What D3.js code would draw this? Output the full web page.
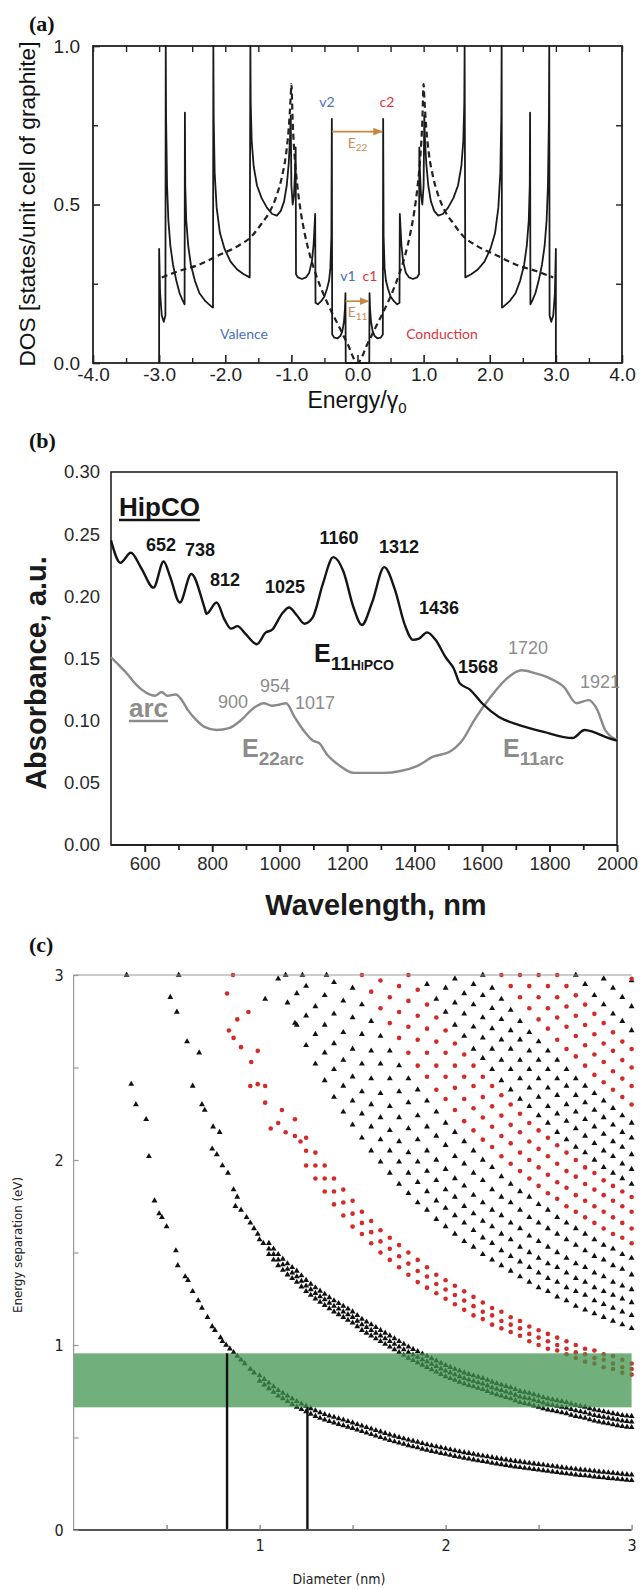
<!DOCTYPE html>
<html>
<head>
<meta charset="utf-8">
<script src="https://cdn.jsdelivr.net/npm/d3@7"></script>
<style>
  body { margin: 0; background: #fff; }
  svg { display: block; }
</style>
</head>
<body>
<div id="chart"></div>
<script>
// ---------------- (a) density of states ----------------
var energyTicks = [-4, -3, -2, -1, 0, 1, 2, 3, 4]
var energyMinor = [-3.5, -2.5, -1.5, -0.5, 0.5, 1.5, 2.5, 3.5]
var dosTicks = [0, 0.5, 1]
var dosMinor = [0.25, 0.75]

// solid line, nanotube DOS  [energy/gamma0, dos]
var tubeDOS = [[-3.0,0],[-3.0,0.36],[-2.985,0.22],[-2.96,0.15],[-2.93,0.13],[-2.905,0.15],[-2.9,1.0],[-2.895,0.78],[-2.88,0.56],[-2.86,0.45],[-2.83,0.37],[-2.79,0.31],[-2.74,0.26],[-2.69,0.22],[-2.65,0.2],[-2.615,0.185],[-2.61,0.79],[-2.605,0.56],[-2.59,0.45],[-2.56,0.37],[-2.52,0.31],[-2.46,0.26],[-2.39,0.22],[-2.3,0.195],[-2.22,0.18],[-2.185,0.175],[-2.18,1.0],[-2.175,0.78],[-2.16,0.6],[-2.13,0.49],[-2.08,0.41],[-2.01,0.36],[-1.92,0.32],[-1.82,0.295],[-1.72,0.28],[-1.63,0.27],[-1.62,1.0],[-1.615,0.82],[-1.6,0.7],[-1.57,0.62],[-1.52,0.56],[-1.45,0.52],[-1.37,0.49],[-1.29,0.47],[-1.22,0.465],[-1.16,0.48],[-1.11,0.51],[-1.07,0.56],[-1.04,0.63],[-1.02,0.71],[-1.01,0.78],[-1.0,0.56],[-0.98,0.5],[-0.96,0.53],[-0.945,0.6],[-0.935,0.68],[-0.93,0.28],[-0.9,0.27],[-0.84,0.265],[-0.78,0.27],[-0.73,0.285],[-0.69,0.32],[-0.665,0.37],[-0.65,0.43],[-0.64,0.47],[-0.635,0.19],[-0.6,0.185],[-0.55,0.195],[-0.5,0.21],[-0.46,0.235],[-0.43,0.26],[-0.41,0.3],[-0.395,0.4],[-0.388,0.77],[-0.383,0.09],[-0.35,0.08],[-0.3,0.078],[-0.26,0.085],[-0.23,0.1],[-0.205,0.13],[-0.19,0.17],[-0.182,0.22],[-0.178,0],
  [0.178,0],[0.182,0.22],[0.19,0.17],[0.205,0.13],[0.23,0.1],[0.26,0.085],[0.3,0.078],[0.35,0.08],[0.383,0.09],[0.388,0.77],[0.395,0.4],[0.41,0.3],[0.43,0.26],[0.46,0.235],[0.5,0.21],[0.55,0.195],[0.6,0.185],[0.635,0.19],[0.64,0.47],[0.65,0.43],[0.665,0.37],[0.69,0.32],[0.73,0.285],[0.78,0.27],[0.84,0.265],[0.9,0.27],[0.93,0.28],[0.935,0.68],[0.945,0.6],[0.96,0.53],[0.98,0.5],[1.0,0.56],[1.01,0.78],[1.02,0.71],[1.04,0.63],[1.07,0.56],[1.11,0.51],[1.16,0.48],[1.22,0.465],[1.29,0.47],[1.37,0.49],[1.45,0.52],[1.52,0.56],[1.57,0.62],[1.6,0.7],[1.615,0.82],[1.62,1.0],[1.63,0.27],[1.72,0.28],[1.82,0.295],[1.92,0.32],[2.01,0.36],[2.08,0.41],[2.13,0.49],[2.16,0.6],[2.175,0.78],[2.18,1.0],[2.185,0.175],[2.22,0.18],[2.3,0.195],[2.39,0.22],[2.46,0.26],[2.52,0.31],[2.56,0.37],[2.59,0.45],[2.605,0.56],[2.61,0.79],[2.615,0.185],[2.65,0.2],[2.69,0.22],[2.74,0.26],[2.79,0.31],[2.83,0.37],[2.86,0.45],[2.88,0.56],[2.895,0.78],[2.9,1.0],[2.905,0.15],[2.93,0.13],[2.96,0.15],[2.985,0.22],[3.0,0.36],[3.0,0]]

// dashed line, graphite DOS
var graphiteDOS = [[-2.96,0.27],[-2.7,0.29],[-2.4,0.31],[-2.1,0.34],[-1.8,0.37],[-1.6,0.4],[-1.45,0.44],[-1.32,0.48],[-1.22,0.53],[-1.14,0.59],[-1.08,0.66],[-1.04,0.74],[-1.01,0.84],[-1.0,0.88],[-0.98,0.76],[-0.95,0.65],[-0.91,0.56],[-0.86,0.48],[-0.8,0.41],[-0.72,0.34],[-0.63,0.28],[-0.52,0.22],[-0.4,0.165],[-0.28,0.115],[-0.15,0.06],[0,0],[0.15,0.06],[0.28,0.115],[0.4,0.165],[0.52,0.22],[0.63,0.28],[0.72,0.34],[0.8,0.41],[0.86,0.48],[0.91,0.56],[0.95,0.65],[0.98,0.76],[1.0,0.88],[1.01,0.84],[1.04,0.74],[1.08,0.66],[1.14,0.59],[1.22,0.53],[1.32,0.48],[1.45,0.44],[1.6,0.4],[1.8,0.37],[2.1,0.34],[2.4,0.31],[2.7,0.29],[2.96,0.27]]

// transitions v2->c2 and v1->c1
var transitions = [{ from: -0.385, to: 0.385, level: 0.73, name: "E", sub: "22" },
                   { from: -0.18, to: 0.18, level: 0.195, name: "E", sub: "11" }]

// ---------------- (b) absorbance ----------------
var wavelengthTicks = [600, 800, 1000, 1200, 1400, 1600, 1800, 2000]
var wavelengthMinor = [700, 900, 1100, 1300, 1500, 1700, 1900]
var absTicks = [0, 0.05, 0.1, 0.15, 0.2, 0.25, 0.3]

var hipcoNm  = [500,528,559,589,626,656,675,704,738,777,783,813,837,856,875,898,932,959,977,1007,1028,1050,1074,1098,1128,1159,1189,1219,1244,1274,1310,1341,1371,1395,1413,1437,1462,1492,1516,1534,1564,1600,1650,1710,1783,1868,1904,1929,1965,2000]
var hipcoAbs = [0.245,0.227,0.235,0.223,0.207,0.228,0.216,0.195,0.218,0.191,0.186,0.195,0.181,0.174,0.176,0.170,0.1615,0.171,0.173,0.186,0.191,0.185,0.178,0.183,0.210,0.2315,0.220,0.191,0.177,0.195,0.2235,0.206,0.177,0.165,0.166,0.171,0.165,0.151,0.142,0.130,0.125,0.114,0.103,0.0965,0.091,0.086,0.0925,0.091,0.087,0.084]

var arcNm  = [500,522,547,571,601,631,650,667,692,710,728,753,777,813,850,886,922,953,977,1001,1019,1044,1074,1098,1117,1141,1177,1219,1262,1310,1358,1407,1455,1504,1535,1541,1577,1625,1674,1717,1759,1801,1843,1880,1916,1941,1965,2000]
var arcAbs = [0.151,0.145,0.138,0.130,0.123,0.120,0.123,0.120,0.121,0.1165,0.1085,0.1005,0.095,0.0925,0.094,0.1005,0.110,0.114,0.112,0.113,0.114,0.103,0.091,0.084,0.082,0.0725,0.064,0.058,0.058,0.058,0.0595,0.0635,0.071,0.075,0.082,0.084,0.1005,0.119,0.134,0.1405,0.138,0.134,0.127,0.114,0.1165,0.109,0.0925,0.0845]

var hipcoPeaks = ["652", "738", "812", "1025", "1160", "1312", "1436", "1568"]
var arcPeaks = ["1720", "1921", "900", "954", "1017"]

// ---------------- (c) Kataura plot ----------------
var diameterTicks = [1, 2, 3]
var diameterMinor = [0.5, 1.5, 2.5]
var energySepTicks = [0, 1, 2, 3]
var energySepMinor = [0.5, 1.5, 2.5]
var windowEV = [0.663, 0.955]          // green band
var cutoffs = [[0.825, 0.955], [1.257, 0.663]]  // vertical lines

// rows are [diameter, energy, energy, ...]
var s11Rows = [[0.285,3.0],[0.31,2.41],[0.335,2.3],[0.39,2.22],[0.405,2.02],[0.435,1.78],[0.46,1.71],[0.475,1.69],[0.5,1.64],[0.55,1.51],[0.56,1.43],[0.6,1.37],[0.615,1.35],[0.64,1.29],[0.67,1.24],[0.69,1.2],[0.72,1.15],[0.745,1.1],[0.76,1.08],[0.79,1.04],[0.8,1.02],[0.82,1.0],[0.84,0.98],[0.86,0.96],[0.88,0.94],[0.9,0.92],[0.92,0.9],[0.95,0.87],[0.97,0.85],
  [1.0,.805,.835],[1.025,.785,.815],[1.05,.765,.795],[1.075,.745,.775],[1.1,.725,.755],[1.125,.71,.74],[1.15,.695,.725],[1.175,.68,.71],[1.2,.665,.695],[1.225,.652,.682],[1.25,.64,.67],[1.275,.627,.657],[1.3,.615,.645],[1.325,.605,.635],[1.35,.595,.625],[1.375,.587,.617],[1.4,.58,.61],[1.425,.572,.602],[1.45,.565,.595],[1.475,.557,.587],[1.5,.55,.58],[1.525,.541,.571],[1.55,.533,.563],[1.575,.525,.555],[1.6,.517,.547],[1.625,.509,.539],[1.65,.501,.531],[1.675,.493,.523],[1.7,.485,.515],[1.725,.478,.508],[1.75,.471,.501],[1.775,.464,.494],[1.8,.457,.487],[1.825,.451,.481],[1.85,.445,.475],[1.875,.438,.468],[1.9,.432,.462],[1.925,.426,.456],[1.95,.421,.451],[1.975,.415,.445],[2.0,.41,.44],[2.025,.405,.435],[2.05,.399,.429],[2.075,.394,.424],[2.1,.389,.419],[2.125,.385,.415],[2.15,.38,.41],[2.175,.375,.405],[2.2,.371,.401],[2.225,.367,.397],[2.25,.362,.392],[2.275,.358,.388],[2.3,.354,.384],[2.325,.35,.38],[2.35,.346,.376],[2.375,.342,.372],[2.4,.339,.369],[2.425,.335,.365],[2.45,.332,.362],[2.475,.328,.358],[2.5,.325,.355],[2.525,.322,.352],[2.55,.318,.348],[2.575,.315,.345],[2.6,.312,.342],[2.625,.308,.338],[2.65,.305,.335],[2.675,.302,.332],[2.7,.299,.329],[2.725,.296,.326],[2.75,.294,.324],[2.775,.291,.321],[2.8,.288,.318],[2.825,.285,.315],[2.85,.283,.313],[2.875,.28,.31],[2.9,.278,.308],[2.925,.275,.305],[2.95,.273,.303],[2.975,.27,.30],[3.0,.268,.298]]

var s22Rows = [[0.52,2.88],[0.555,2.8],[0.565,3.0],[0.61,2.64],[0.64,2.4],[0.675,2.58],[0.69,2.3],[0.705,2.27],[0.75,2.18],[0.785,2.15],[0.745,2.06],[0.77,2.03],[0.8,1.97],[0.83,1.93],[0.86,1.84],[0.88,1.8],[0.87,1.75],[0.9,1.73],[0.93,1.69],[0.95,1.66],[0.97,1.63],[0.99,1.6],[1.0,1.57],[1.02,1.55],
  [1.05,1.49,1.52,1.55],[1.075,1.46,1.49,1.52],[1.1,1.43,1.46,1.49],[1.125,1.405,1.435,1.465],[1.15,1.38,1.41,1.44],[1.175,1.36,1.39,1.42],[1.2,1.34,1.37,1.40],[1.225,1.315,1.345,1.375],[1.25,1.29,1.32,1.35],[1.275,1.27,1.30,1.33],[1.3,1.25,1.28,1.31],[1.325,1.232,1.262,1.292],[1.35,1.215,1.245,1.275],[1.375,1.197,1.227,1.257],[1.4,1.18,1.21,1.24],[1.425,1.165,1.195,1.225],[1.45,1.15,1.18,1.21],[1.475,1.135,1.165,1.195],[1.5,1.12,1.15,1.18],[1.525,1.10,1.13,1.16],[1.55,1.08,1.11,1.14],[1.575,1.065,1.095,1.125],[1.6,1.05,1.08,1.11],[1.625,1.035,1.065,1.095],[1.65,1.02,1.05,1.08],[1.675,1.005,1.035,1.065],[1.7,0.99,1.02,1.05],[1.725,0.975,1.005,1.035],[1.75,0.96,0.99,1.02],[1.775,0.945,0.975,1.005],[1.8,0.93,0.96,0.99],[1.825,0.917,0.947,0.977],[1.85,0.905,0.935,0.965],[1.875,0.892,0.922,0.952],[1.9,0.88,0.91,0.94],[1.925,0.867,0.897,0.927],[1.95,0.855,0.885,0.915],[1.975,0.842,0.872,0.902],[2.0,0.83,0.86,0.89],[2.025,0.82,0.85,0.88],[2.05,0.81,0.84,0.87],[2.075,0.80,0.83,0.86],[2.1,0.79,0.82,0.85],[2.125,0.782,0.812,0.842],[2.15,0.775,0.805,0.835],[2.175,0.767,0.797,0.827],[2.2,0.76,0.79,0.82],[2.225,0.75,0.78,0.81],[2.25,0.74,0.77,0.80],[2.275,0.732,0.762,0.792],[2.3,0.725,0.755,0.785],[2.325,0.717,0.747,0.777],[2.35,0.71,0.74,0.77],[2.375,0.70,0.73,0.76],[2.4,0.69,0.72,0.75],[2.425,0.685,0.715,0.745],[2.45,0.68,0.71,0.74],[2.475,0.672,0.702,0.732],[2.5,0.665,0.695,0.725],[2.525,0.657,0.687,0.717],[2.55,0.65,0.68,0.71],[2.575,0.645,0.675,0.705],[2.6,0.64,0.67,0.70],[2.625,0.635,0.665,0.695],[2.65,0.63,0.66,0.69],[2.675,0.622,0.652,0.682],[2.7,0.615,0.645,0.675],[2.725,0.61,0.64,0.67],[2.75,0.605,0.635,0.665],[2.775,0.597,0.627,0.657],[2.8,0.59,0.62,0.65],[2.825,0.585,0.615,0.645],[2.85,0.58,0.61,0.64],[2.875,0.575,0.605,0.635],[2.9,0.57,0.60,0.63],[2.925,0.565,0.595,0.625],[2.95,0.56,0.59,0.62],[2.975,0.557,0.587,0.617],[3.0,0.555,0.585,0.615]]

var m11Rows = [[0.825,2.9],[0.835,2.7],[0.857,3.0],[0.86,2.66],[0.88,2.76],[0.9,2.61],[0.94,2.8],[0.955,2.53],[0.95,2.4],[0.99,2.59],[0.99,2.41],[1.03,2.4],[1.03,2.31],[1.06,2.17],[1.1,2.2],[1.12,2.27],[1.14,2.15],[1.19,2.22],[1.19,2.13],[1.22,2.1],
  [1.25,1.97,2.05,2.12],[1.3,1.9,1.97,2.04],[1.35,1.83,1.9,1.97],[1.4,1.76,1.83,1.9],[1.45,1.7,1.77,1.84],[1.5,1.64,1.71,1.78],[1.55,1.6,1.66,1.72],[1.6,1.55,1.61,1.67],[1.65,1.5,1.56,1.62],[1.7,1.46,1.52,1.58],[1.75,1.42,1.48,1.54],[1.8,1.38,1.44,1.5],[1.85,1.34,1.4,1.46],[1.9,1.31,1.37,1.42],[1.95,1.28,1.33,1.38],[2.0,1.25,1.3,1.35],[2.05,1.22,1.27,1.32],[2.1,1.19,1.24,1.29],[2.15,1.16,1.21,1.26],[2.2,1.14,1.18,1.23],[2.25,1.11,1.16,1.2],[2.3,1.09,1.13,1.18],[2.35,1.07,1.11,1.15],[2.4,1.05,1.09,1.13],[2.45,1.02,1.06,1.1],[2.5,1.0,1.04,1.08],[2.55,0.98,1.02,1.06],[2.6,0.97,1.0,1.04],[2.65,0.95,0.98,1.02],[2.7,0.93,0.96,1.0],[2.75,0.91,0.95,0.98],[2.8,0.9,0.93,0.97],[2.85,0.88,0.92,0.95],[2.9,0.87,0.9,0.94],[2.95,0.85,0.88,0.92],[3.0,0.84,0.87,0.9]]

var s33Rows = [[1.03,2.87],[1.1,2.98],[1.14,3.0],[1.15,2.85],[1.19,2.74],[1.2,2.73,2.9],[1.25,2.62,2.78,2.94],[1.3,2.52,2.68,2.83],[1.35,2.43,2.58,2.73],[1.4,2.34,2.49,2.63],[1.45,2.26,2.40,2.54],[1.5,2.19,2.32,2.45],[1.55,2.12,2.25,2.37],[1.6,2.05,2.18,2.30],[1.65,1.99,2.11,2.23],[1.7,1.93,2.05,2.16],[1.75,1.87,1.99,2.10],[1.8,1.82,1.93,2.04],[1.85,1.77,1.88,1.99],[1.9,1.73,1.83,1.94],[1.95,1.68,1.78,1.89],[2.0,1.64,1.74,1.84],[2.05,1.60,1.70,1.80],[2.1,1.56,1.66,1.75],[2.15,1.53,1.62,1.71],[2.2,1.49,1.58,1.67],[2.25,1.46,1.55,1.64],[2.3,1.43,1.51,1.60],[2.35,1.40,1.48,1.57],[2.4,1.37,1.45,1.53],[2.45,1.34,1.42,1.50],[2.5,1.31,1.39,1.47],[2.55,1.29,1.36,1.44],[2.6,1.26,1.34,1.42],[2.65,1.24,1.31,1.39],[2.7,1.21,1.29,1.36],[2.75,1.19,1.27,1.34],[2.8,1.17,1.24,1.31],[2.85,1.15,1.22,1.29],[2.9,1.13,1.20,1.27],[2.95,1.11,1.18,1.25],[3.0,1.09,1.16,1.23]]

var s44Rows = [[1.23,3.0],[1.35,2.89],[1.36,3.0],[1.4,2.79,2.96],[1.45,2.69,2.86],[1.5,2.60,2.77,2.93],[1.55,2.52,2.68,2.84],[1.6,2.44,2.59,2.75],[1.65,2.36,2.52,2.67],[1.7,2.29,2.44,2.59],[1.75,2.23,2.37,2.51],[1.8,2.17,2.31,2.44],[1.85,2.11,2.24,2.38],[1.9,2.05,2.18,2.32],[1.95,2.00,2.13,2.26],[2.0,1.95,2.08,2.20],[2.05,1.90,2.02,2.15],[2.1,1.86,1.98,2.10],[2.15,1.81,1.93,2.05],[2.2,1.77,1.89,2.00],[2.25,1.73,1.84,1.96],[2.3,1.70,1.80,1.91],[2.35,1.66,1.77,1.87],[2.4,1.63,1.73,1.83],[2.45,1.59,1.69,1.80],[2.5,1.56,1.66,1.76],[2.55,1.53,1.63,1.73],[2.6,1.50,1.60,1.69],[2.65,1.47,1.57,1.66],[2.7,1.44,1.54,1.63],[2.75,1.42,1.51,1.60],[2.8,1.39,1.48,1.57],[2.85,1.37,1.46,1.54],[2.9,1.34,1.43,1.52],[2.95,1.32,1.41,1.49],[3.0,1.30,1.38,1.47]]

var m22Rows = [[1.55,3.0],[1.6,2.91],[1.65,2.82,2.97],[1.7,2.74,2.88],[1.75,2.66,2.80,2.94],[1.8,2.58,2.72,2.86,3.0],[1.85,2.51,2.65,2.78,2.92],[1.9,2.45,2.58,2.71,2.84],[1.95,2.38,2.51,2.64,2.77],[2.0,2.33,2.45,2.58,2.70],[2.05,2.27,2.39,2.51,2.63],[2.1,2.21,2.33,2.45,2.57],[2.15,2.16,2.28,2.40,2.51],[2.2,2.11,2.23,2.34,2.45],[2.25,2.07,2.18,2.29,2.40],[2.3,2.02,2.13,2.24,2.35],[2.35,1.98,2.09,2.19,2.30],[2.4,1.94,2.04,2.15,2.25],[2.45,1.90,2.00,2.10,2.20],[2.5,1.86,1.96,2.06,2.16],[2.55,1.82,1.92,2.02,2.12],[2.6,1.79,1.88,1.98,2.08],[2.65,1.75,1.85,1.94,2.04],[2.7,1.72,1.81,1.91,2.00],[2.75,1.69,1.78,1.87,1.96],[2.8,1.66,1.75,1.84,1.93],[2.85,1.63,1.72,1.81,1.89],[2.9,1.60,1.69,1.78,1.86],[2.95,1.58,1.66,1.75,1.83],[3.0,1.55,1.63,1.72,1.80]]

var s55Rows = [[1.9,2.95],[1.95,2.87],[2.0,2.80,2.93],[2.05,2.73,2.85,2.98],[2.1,2.67,2.79,2.90],[2.15,2.60,2.72,2.84,2.95],[2.2,2.55,2.66,2.77,2.89,3.0],[2.25,2.49,2.60,2.71,2.82,2.93],[2.3,2.43,2.54,2.65,2.76,2.87],[2.35,2.38,2.49,2.60,2.70,2.81],[2.4,2.33,2.44,2.54,2.65,2.75],[2.45,2.29,2.39,2.49,2.59,2.69],[2.5,2.24,2.34,2.44,2.54,2.64],[2.55,2.20,2.29,2.39,2.49,2.59],[2.6,2.15,2.25,2.35,2.44,2.54],[2.65,2.11,2.21,2.30,2.40,2.49],[2.7,2.07,2.17,2.26,2.35,2.44],[2.75,2.04,2.13,2.22,2.31,2.40],[2.8,2.00,2.09,2.18,2.27,2.36],[2.85,1.96,2.05,2.14,2.23,2.32],[2.9,1.93,2.02,2.10,2.19,2.28],[2.95,1.90,1.98,2.07,2.15,2.24],[3.0,1.87,1.95,2.03,2.12,2.20]]

var m33Rows = [[2.3,3.0],[2.35,2.94],[2.4,2.88,3.0],[2.45,2.82,2.94],[2.5,2.76,2.88,3.0],[2.55,2.71,2.82,2.94],[2.6,2.65,2.77,2.88,3.0],[2.65,2.60,2.72,2.83,2.94],[2.7,2.56,2.67,2.78,2.89],[2.75,2.51,2.62,2.73,2.84],[2.8,2.46,2.57,2.68,2.79],[2.85,2.42,2.53,2.63,2.74],[2.9,2.38,2.48,2.59,2.69],[2.95,2.34,2.44,2.54,2.64],[3.0,2.30,2.40,2.50,2.60,2.98]]

var s77Rows = [[2.7,3.0],[2.75,2.95],[2.8,2.89],[2.85,2.84,2.98],[2.9,2.79,2.93],[2.95,2.75,2.88],[3.0,2.70,2.83,2.97]]

var semiconductingBands = [s11Rows, s22Rows, s33Rows, s44Rows, s55Rows, s77Rows]
var metallicBands = [m11Rows, m22Rows, m33Rows]

// ==========================================================
var svg = d3.select("#chart").append("svg")
  .attr("width", 641).attr("height", 1589)
  .style("font-family", "'Liberation Sans', Arial, Helvetica, sans-serif")

var defs = svg.append("defs")
defs.append("marker").attr("id", "arrowhead")
  .attr("viewBox", "0 0 10 10").attr("refX", 9).attr("refY", 5)
  .attr("markerWidth", 6).attr("markerHeight", 6).attr("orient", "auto")
  .append("path").attr("d", "M0,1L10,5L0,9z").attr("fill", "#c8873e")

// strip d3's default axis font so styles below win
function plainAxis(g, color, width) {
  g.attr("font-size", null).attr("font-family", null)
  g.select(".domain").remove()
  g.selectAll(".tick line").attr("stroke", color).attr("stroke-width", width)
}

var letters = ["(a)", "(b)", "(c)"]
var letterY = [31, 448, 952]
letters.forEach(function (t, i) {
  svg.append("text").attr("x", 29).attr("y", letterY[i]).text(t)
    .style("font-family", "'Liberation Serif', 'Times New Roman', serif")
    .style("font-weight", "bold").style("font-size", "22px").attr("fill", "#111")
})

// ---------------- panel (a) ----------------
var xa = d3.scaleLinear().domain([-4, 4]).range([93, 622])
var ya = d3.scaleLinear().domain([0, 1]).range([363, 46])
var ga = svg.append("g")

ga.append("g").attr("transform", "translate(0,363)")
  .call(d3.axisBottom(xa).tickValues(energyTicks).tickSize(-8).tickPadding(5).tickFormat(d => d.toFixed(1)))
  .call(plainAxis, "#222", 1.6)
  .selectAll("text").style("font-size", "19px").attr("fill", "#222")
ga.append("g").attr("transform", "translate(0,363)")
  .call(d3.axisBottom(xa).tickValues(energyMinor).tickSize(-5).tickFormat(""))
  .call(plainAxis, "#222", 1.4)
ga.append("g").attr("transform", "translate(0,46)")
  .call(d3.axisTop(xa).tickValues(energyTicks.concat(energyMinor)).tickSize(-6).tickFormat(""))
  .call(plainAxis, "#222", 1.4)
ga.append("g").attr("transform", "translate(93,0)")
  .call(d3.axisLeft(ya).tickValues(dosTicks).tickSize(-7).tickPadding(13).tickFormat(d => d.toFixed(1)))
  .call(plainAxis, "#222", 1.6)
  .selectAll("text").style("font-size", "19px").attr("fill", "#222")
ga.append("g").attr("transform", "translate(93,0)")
  .call(d3.axisLeft(ya).tickValues(dosMinor).tickSize(-5).tickFormat(""))
  .call(plainAxis, "#222", 1.4)
ga.append("g").attr("transform", "translate(622,0)")
  .call(d3.axisRight(ya).tickValues(dosMinor.concat([0.5])).tickSize(-6).tickFormat(""))
  .call(plainAxis, "#222", 1.4)

ga.append("rect").attr("x", xa(-4)).attr("y", ya(1))
  .attr("width", xa(4) - xa(-4)).attr("height", ya(0) - ya(1))
  .attr("fill", "none").attr("stroke", "#222").attr("stroke-width", 1.8)

var dashedLine = d3.line().x(d => xa(d[0])).y(d => ya(d[1])).curve(d3.curveMonotoneX)
var solidLine = d3.line().x(d => xa(d[0])).y(d => ya(d[1]))

ga.append("path").datum(graphiteDOS).attr("d", dashedLine)
  .attr("fill", "none").attr("stroke", "#222").attr("stroke-width", 2.2).attr("stroke-dasharray", "6,4")
ga.append("path").datum(tubeDOS).attr("d", solidLine)
  .attr("fill", "none").attr("stroke", "#1a1a1a").attr("stroke-width", 1.8).attr("stroke-linejoin", "round")

// arrows between van Hove singularities
transitions.forEach(function (t, i) {
  ga.append("line").attr("x1", xa(t.from)).attr("x2", xa(t.to) - 1)
    .attr("y1", ya(t.level)).attr("y2", ya(t.level))
    .attr("stroke", "#c8873e").attr("stroke-width", 1.6).attr("marker-end", "url(#arrowhead)")
  var lab = ga.append("text").attr("x", xa(0)).attr("y", ya(t.level) + 16)
    .attr("text-anchor", "middle").attr("fill", "#c98c55")
    .style("font-family", "Lato, 'Open Sans', sans-serif").style("font-size", "14px")
  lab.append("tspan").text(t.name)
  lab.append("tspan").attr("dy", 3).style("font-size", "10px").text(t.sub)
})

var bandLabels = [
  { t: "v2", x: 327, y: 107, c: "#4a6fbf" }, { t: "c2", x: 387, y: 107, c: "#e0333c" },
  { t: "v1", x: 348, y: 281, c: "#4a6fbf" }, { t: "c1", x: 370, y: 281, c: "#e0333c" },
  { t: "Valence", x: 244, y: 339, c: "#4a6fbf" }, { t: "Conduction", x: 442, y: 339, c: "#e0333c" }]
ga.selectAll(".blab").data(bandLabels).enter().append("text")
  .attr("x", d => d.x).attr("y", d => d.y).attr("text-anchor", "middle")
  .attr("fill", d => d.c).text(d => d.t)
  .style("font-family", "Lato, 'Open Sans', sans-serif").style("font-size", "14px")

var xtA = ga.append("text").attr("x", 357).attr("y", 408).attr("text-anchor", "middle")
  .style("font-size", "23px").attr("fill", "#111")
xtA.append("tspan").text("Energy/γ")
xtA.append("tspan").attr("dy", 5).style("font-size", "15px").text("0")

ga.append("text").attr("transform", "translate(35,204) rotate(-90)")
  .attr("text-anchor", "middle").style("font-size", "22px").attr("fill", "#111")
  .attr("textLength", 325).attr("lengthAdjust", "spacingAndGlyphs")
  .text("DOS [states/unit cell of graphite]")

// ---------------- panel (b) ----------------
var xb = d3.scaleLinear().domain([500, 2000]).range([111, 617])
var yb = d3.scaleLinear().domain([0, 0.3]).range([845, 472])
var gb = svg.append("g")

gb.append("g").attr("transform", "translate(0,845)")
  .call(d3.axisBottom(xb).tickValues(wavelengthTicks).tickSize(7).tickPadding(5).tickFormat(d3.format("d")))
  .call(plainAxis, "#222", 2)
  .selectAll("text").style("font-size", "18.5px").attr("fill", "#2a2a2a")
gb.append("g").attr("transform", "translate(0,845)")
  .call(d3.axisBottom(xb).tickValues(wavelengthMinor).tickSize(5).tickFormat(""))
  .call(plainAxis, "#222", 1.8)
gb.append("g").attr("transform", "translate(111,0)")
  .call(d3.axisLeft(yb).tickValues(absTicks).tickSize(0).tickPadding(11).tickFormat(d3.format(".2f")))
  .call(plainAxis, "#222", 1)
  .selectAll("text").style("font-size", "18.5px").attr("fill", "#2a2a2a")

gb.append("rect").attr("x", xb(500)).attr("y", yb(0.3))
  .attr("width", xb(2000) - xb(500)).attr("height", yb(0) - yb(0.3))
  .attr("fill", "none").attr("stroke", "#222").attr("stroke-width", 1.6)
gb.append("line").attr("x1", xb(500)).attr("x2", xb(2000)).attr("y1", yb(0)).attr("y2", yb(0))
  .attr("stroke", "#222").attr("stroke-width", 2.2)

var specLine = d3.line().x(d => xb(d[0])).y(d => yb(d[1])).curve(d3.curveMonotoneX)
gb.append("path").datum(d3.zip(arcNm, arcAbs)).attr("d", specLine)
  .attr("fill", "none").attr("stroke", "#8a8a8a").attr("stroke-width", 2.4)
gb.append("path").datum(d3.zip(hipcoNm, hipcoAbs)).attr("d", specLine)
  .attr("fill", "none").attr("stroke", "#151515").attr("stroke-width", 2.4)

var hipcoPeakPos = [[161, 551], [200, 556], [225, 586], [285, 593], [339, 544], [399, 553], [439, 614], [478, 673]]
var arcPeakPos = [[528, 654], [600, 688], [233, 708], [275, 692], [315, 709]]
hipcoPeaks.forEach(function (t, i) {
  gb.append("text").attr("x", hipcoPeakPos[i][0]).attr("y", hipcoPeakPos[i][1])
    .attr("text-anchor", "middle").style("font-size", "18px").style("font-weight", "bold")
    .attr("fill", "#151515").text(t)
})
arcPeaks.forEach(function (t, i) {
  gb.append("text").attr("x", arcPeakPos[i][0]).attr("y", arcPeakPos[i][1])
    .attr("text-anchor", "middle").style("font-size", "18px")
    .attr("fill", "#8c8c8c").text(t)
})

function underlined(g, x, y, txt, color) {
  var t = g.append("text").attr("x", x).attr("y", y).text(txt)
    .style("font-size", "26px").style("font-weight", "bold").attr("fill", color)
  var w = t.node().getComputedTextLength()
  g.append("line").attr("x1", x).attr("x2", x + w).attr("y1", y + 4).attr("y2", y + 4)
    .attr("stroke", color).attr("stroke-width", 2.4)
}
underlined(gb, 119, 516, "HipCO", "#151515")
underlined(gb, 129, 717, "arc", "#8c8c8c")

function subLabel(g, x, y, sub, small, color, smallCaps) {
  var t = g.append("text").attr("x", x).attr("y", y).attr("fill", color).style("font-weight", "bold")
  t.append("tspan").style("font-size", "25px").text("E")
  t.append("tspan").attr("dy", 8).style("font-size", "19px").text(sub)
  var s = t.append("tspan").style("font-size", smallCaps ? "14px" : "16px").text(small)
  if (smallCaps) s.style("font-variant", "small-caps")
}
subLabel(gb, 314, 662, "11", "HiPCO", "#151515", true)
subLabel(gb, 242, 757, "22", "arc", "#8c8c8c", false)
subLabel(gb, 503, 757, "11", "arc", "#8c8c8c", false)

gb.append("text").attr("transform", "translate(46,673) rotate(-90)")
  .attr("text-anchor", "middle").style("font-size", "29px").style("font-weight", "bold")
  .attr("fill", "#1a1a1a").text("Absorbance, a.u.")
gb.append("text").attr("x", 376).attr("y", 915).attr("text-anchor", "middle")
  .style("font-size", "29px").style("font-weight", "bold").attr("fill", "#1a1a1a")
  .text("Wavelength, nm")

// ---------------- panel (c) ----------------
var xc = d3.scaleLinear().domain([0, 3]).range([73.6, 631.6])
var yc = d3.scaleLinear().domain([0, 3]).range([1530, 975])
var gc = svg.append("g").style("font-family", "'Liberation Sans Narrow', 'DejaVu Sans Condensed', Arial, sans-serif")

function flatten(rows) {
  var pts = []
  rows.forEach(r => r.slice(1).forEach(e => pts.push([r[0], e])))
  return pts
}
var blackPts = [].concat.apply([], semiconductingBands.map(flatten))
var redPts = [].concat.apply([], metallicBands.map(flatten))

var tri = d3.symbol().type(d3.symbolTriangle).size(15)
gc.selectAll(".s").data(blackPts).enter().append("path")
  .attr("d", tri).attr("transform", d => "translate(" + xc(d[0]) + "," + yc(d[1]) + ")")
  .attr("fill", "#111")
gc.selectAll(".m").data(redPts).enter().append("circle")
  .attr("cx", d => xc(d[0])).attr("cy", d => yc(d[1])).attr("r", 2.3)
  .attr("fill", "#d42a2a")

// transparent green window drawn on top of the markers
gc.append("rect").attr("x", xc(0)).attr("y", yc(windowEV[1]))
  .attr("width", xc(3) - xc(0)).attr("height", yc(windowEV[0]) - yc(windowEV[1]))
  .attr("fill", "rgb(66,150,80)").attr("opacity", 0.75)

cutoffs.forEach(function (c) {
  gc.append("line").attr("x1", xc(c[0])).attr("x2", xc(c[0]))
    .attr("y1", yc(0)).attr("y2", yc(c[1]))
    .attr("stroke", "#111").attr("stroke-width", 2.4)
})

gc.append("line").attr("x1", xc(0)).attr("x2", xc(0)).attr("y1", yc(0)).attr("y2", yc(3))
  .attr("stroke", "#999").attr("stroke-width", 1.2)
gc.append("line").attr("x1", xc(0)).attr("x2", xc(3)).attr("y1", yc(3)).attr("y2", yc(3))
  .attr("stroke", "#999").attr("stroke-width", 1.2)
gc.append("line").attr("x1", xc(0)).attr("x2", xc(3)).attr("y1", yc(0)).attr("y2", yc(0))
  .attr("stroke", "#555").attr("stroke-width", 2)

gc.append("g").attr("transform", "translate(0,1530)")
  .call(d3.axisBottom(xc).tickValues(diameterTicks.concat(diameterMinor)).tickSize(-5).tickPadding(10)
    .tickFormat(d => diameterTicks.indexOf(d) >= 0 ? d : ""))
  .call(plainAxis, "#777", 1.2)
  .selectAll("text").style("font-size", "16px").attr("fill", "#222")
gc.append("g").attr("transform", "translate(73.6,0)")
  .call(d3.axisLeft(yc).tickValues(energySepTicks.concat(energySepMinor)).tickSize(-5).tickPadding(10)
    .tickFormat(d => energySepTicks.indexOf(d) >= 0 ? d : ""))
  .call(plainAxis, "#999", 1.2)
  .selectAll("text").style("font-size", "16px").attr("fill", "#222")

gc.append("text").attr("x", 339).attr("y", 1584).attr("text-anchor", "middle")
  .style("font-size", "14px").attr("fill", "#222").text("Diameter (nm)")
gc.append("text").attr("transform", "translate(22,1245) rotate(-90)")
  .attr("text-anchor", "middle").style("font-size", "13px").attr("fill", "#222")
  .attr("textLength", 136).attr("lengthAdjust", "spacingAndGlyphs")
  .text("Energy separation (eV)")
</script>
</body>
</html>
